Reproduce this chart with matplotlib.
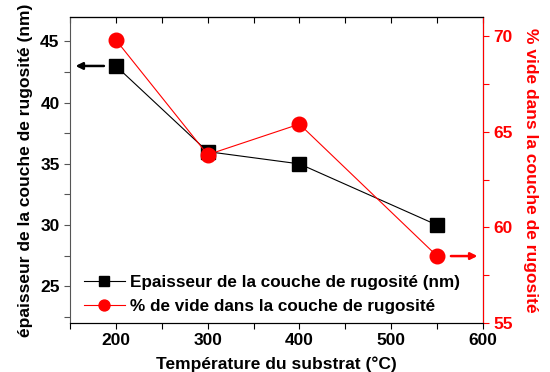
import matplotlib
matplotlib.use("Agg")
import matplotlib.pyplot as plt
from matplotlib.ticker import MultipleLocator

plt.rcParams['font.family'] = ['Liberation Sans', 'DejaVu Sans']
plt.rcParams['font.weight'] = 'bold'

# data
temp = [200, 300, 400, 550]
epaisseur = [43, 36, 35, 30]
vide = [69.8, 63.8, 65.4, 58.5]

fig = plt.figure(figsize=(5.5, 3.72), dpi=100)
ax = fig.add_axes([70/550, 1-323/372, 413/550, 306/372])
ax2 = ax.twinx()

l1, = ax.plot(temp, epaisseur, c='k', lw=0.8, marker='s', ms=9.5, mec='k', mfc='k',
              label='Epaisseur de la couche de rugosité (nm)')
l2, = ax2.plot(temp, vide, c='red', lw=0.8, marker='o', ms=10.5, mec='red', mfc='red',
               label='% de vide dans la couche de rugosité')

ax.set_xlim(150, 600)
ax.set_ylim(22, 47)
ax2.set_ylim(55, 71)

ax.xaxis.set_major_locator(MultipleLocator(100))
ax.xaxis.set_minor_locator(MultipleLocator(50))
ax.yaxis.set_major_locator(MultipleLocator(5))
ax.yaxis.set_minor_locator(MultipleLocator(2.5))
ax2.yaxis.set_major_locator(MultipleLocator(5))
ax2.yaxis.set_minor_locator(MultipleLocator(2.5))

ax.tick_params(axis='x', which='both', direction='out', length=4, width=0.8,
               labelsize=12.5, colors='k')
ax.tick_params(axis='y', which='both', direction='out', length=4, width=0.8,
               labelsize=12.5, color='#555555')
ax2.tick_params(axis='y', which='both', direction='out', length=4, width=0.8,
                labelsize=12.5, colors='red')

# top axis: ticks pointing inward, no labels
top = ax.secondary_xaxis('top')
top.xaxis.set_major_locator(MultipleLocator(100))
top.xaxis.set_minor_locator(MultipleLocator(50))
top.tick_params(which='both', direction='in', length=4, width=0.8, labeltop=False)

ax.spines['left'].set_color('#555555')
ax2.spines['right'].set_color('red')
ax2.spines['left'].set_visible(False)

ax.set_xlabel('Température du substrat (°C)', fontsize=12.5, fontweight='bold', labelpad=6)
ax.set_ylabel('épaisseur de la couche de rugosité (nm)', fontsize=12.5, fontweight='bold',
              labelpad=5)
ax2.set_ylabel('% vide dans la couche de rugosité', fontsize=12.5, fontweight='bold',
               color='red', rotation=270, labelpad=18)

ax.annotate('', xy=(153, 43), xytext=(190, 43),
            arrowprops=dict(arrowstyle='-|>', color='k', lw=1.8, mutation_scale=10))
ax2.annotate('', xy=(597, 58.5), xytext=(562, 58.5),
             arrowprops=dict(arrowstyle='-|>', color='red', lw=1.8, mutation_scale=10))

leg = ax.legend(handles=[l1, l2], loc='lower left', bbox_to_anchor=(0.01, 0.0),
                frameon=False, fontsize=12.3, handlelength=2.4, handletextpad=0.3,
                labelspacing=0.5, borderaxespad=0.15, markerscale=0.75)

fig.savefig('out.png', dpi=100)
